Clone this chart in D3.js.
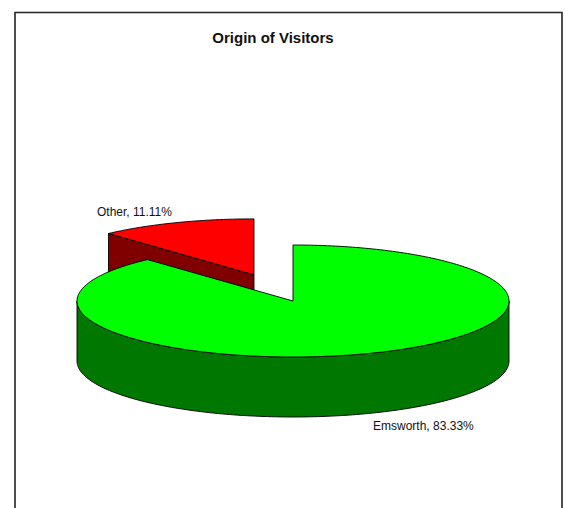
<!DOCTYPE html>
<html>
<head>
<meta charset="utf-8">
<script src="https://cdn.jsdelivr.net/npm/d3@7"></script>
<style>
  body { margin: 0; background: #fff; }
  svg { display: block; font-family: "Liberation Sans", Arial, sans-serif; }
</style>
</head>
<body>
<div id="chart"></div>
<script>
// data
var categories = ["Emsworth", "Other"];
var values = [83.33, 11.11];
var sliceColors = ["#00ff00", "#ff0000"];
var sideColors = ["#007800", "#800000"];
var explodedSlice = "Other";

var width = 565, height = 508;
var cx = 293, cy = 301, rx = 216, ry = 56, depth = 60;
var explode = 0.5;

var svg = d3.select("#chart").append("svg")
  .attr("width", width)
  .attr("height", height);

// frame (open at the bottom, like the source image)
svg.append("path")
  .attr("d", "M15,520 L15,12.5 L562,12.5 L562,520")
  .attr("fill", "none")
  .attr("stroke", "#222")
  .attr("stroke-width", 1.6);

svg.append("text")
  .attr("x", 273)
  .attr("y", 43)
  .attr("text-anchor", "middle")
  .style("font-size", "15px")
  .style("font-weight", "bold")
  .attr("fill", "#111")
  .text("Origin of Visitors");

var pie = d3.pie().sort(null).value(function(d) { return d.value; });
var arcs = pie(categories.map(function(c, i) {
  return { name: c, value: values[i], color: sliceColors[i], side: sideColors[i] };
}));

// slice centre after explode
arcs.forEach(function(a) {
  var mid = (a.startAngle + a.endAngle) / 2;
  var k = a.data.name === explodedSlice ? explode : 0;
  a.mid = mid;
  a.ox = cx + k * rx * Math.sin(mid);
  a.oy = cy - k * ry * Math.cos(mid);
});

function pt(a, ang, dz) {
  return [a.ox + rx * Math.sin(ang), a.oy - ry * Math.cos(ang) + (dz || 0)];
}
function arcPts(a, a0, a1, dz) {
  var n = Math.max(2, Math.ceil(Math.abs(a1 - a0) / 0.02));
  return d3.range(n + 1).map(function(i) { return pt(a, a0 + (a1 - a0) * i / n, dz); });
}
var line = d3.line();

// back slices first
var order = arcs.slice().sort(function(p, q) { return p.oy - q.oy; });

var g = svg.append("g").attr("stroke", "#000").attr("stroke-width", 0.9).attr("stroke-linejoin", "round");

order.forEach(function(a) {
  var a0 = a.startAngle, a1 = a.endAngle;
  var ctr = [a.ox, a.oy], ctrB = [a.ox, a.oy + depth];

  // start face is visible when it turns toward the viewer
  if (Math.cos(a0) < 0 || (Math.sin(a0) < 0 && Math.cos(a0) > 0)) {
    g.append("path")
      .attr("d", line([ctr, pt(a, a0), pt(a, a0, depth), ctrB]) + "Z")
      .attr("fill", a.data.side);
  }

  // outer front wall
  var s0 = Math.max(a0, Math.PI / 2), s1 = Math.min(a1, 3 * Math.PI / 2);
  if (s1 > s0) {
    var top = arcPts(a, s0, s1, 0);
    var bot = arcPts(a, s1, s0, depth);
    g.append("path")
      .attr("d", line(top.concat(bot)) + "Z")
      .attr("fill", a.data.side);
  }

  // top
  g.append("path")
    .attr("d", line([ctr].concat(arcPts(a, a0, a1, 0))) + "Z")
    .attr("fill", a.data.color);
});

// labels
arcs.forEach(function(a) {
  var p = pt(a, a.mid);
  var front = Math.cos(a.mid) < 0;
  var right = Math.sin(a.mid) >= 0;
  svg.append("text")
    .attr("x", p[0] + (right ? 2 : -4))
    .attr("y", front ? p[1] + depth + 17 : p[1] - 7)
    .attr("text-anchor", right ? "start" : "end")
    .style("font-size", "12px")
    .attr("fill", "#111")
    .text(a.data.name + ", " + d3.format(".2f")(a.data.value) + "%");
});
</script>
</body>
</html>
